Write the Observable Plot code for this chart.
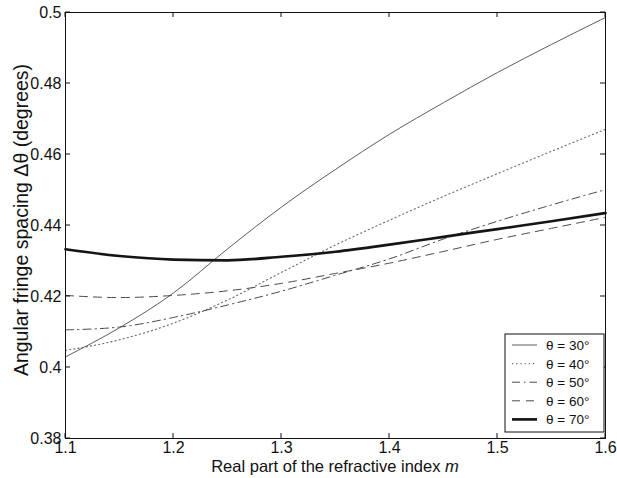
<!DOCTYPE html>
<html>
<head>
<meta charset="utf-8">
<script src="https://cdn.jsdelivr.net/npm/d3@7"></script>
<script src="https://cdn.jsdelivr.net/npm/@observablehq/plot@0.6"></script>
<style>
  html, body { margin: 0; padding: 0; background: #fff; }
  #chart { width: 617px; height: 478px; }
</style>
</head>
<body>
<div id="chart"></div>
<script>
// Real part of refractive index
const m = [1.10, 1.15, 1.20, 1.25, 1.30, 1.35, 1.40, 1.45, 1.50, 1.55, 1.60];
// Angular fringe spacing (degrees) for each scattering angle
const theta30 = [0.4030, 0.4112, 0.4210, 0.4334, 0.4452, 0.4558, 0.4657, 0.4746, 0.4831, 0.4910, 0.4986];
const theta40 = [0.4048, 0.4078, 0.4125, 0.4190, 0.4268, 0.4345, 0.4415, 0.4482, 0.4546, 0.4609, 0.4671];
const theta50 = [0.4106, 0.4114, 0.4141, 0.4176, 0.4215, 0.4260, 0.4306, 0.4362, 0.4412, 0.4458, 0.4501];
const theta60 = [0.4203, 0.4197, 0.4203, 0.4216, 0.4237, 0.4265, 0.4294, 0.4327, 0.4361, 0.4392, 0.4423];
const theta70 = [0.4333, 0.4314, 0.4304, 0.4302, 0.4312, 0.4326, 0.4346, 0.4368, 0.4390, 0.4412, 0.4435];

const seriesNames = ["θ = 30°", "θ = 40°", "θ = 50°", "θ = 60°", "θ = 70°"];
const seriesValues = [theta30, theta40, theta50, theta60, theta70];
const xTicks = [1.1, 1.2, 1.3, 1.4, 1.5, 1.6];
const yTicks = [0.38, 0.40, 0.42, 0.44, 0.46, 0.48, 0.50];

const styles = [
  {stroke: "#4a4a4a", strokeWidth: 0.9, dash: null},
  {stroke: "#6a6a6a", strokeWidth: 1.1, dash: "1.2,3"},
  {stroke: "#4a4a4a", strokeWidth: 1.0, dash: "8,4,1.5,4"},
  {stroke: "#4a4a4a", strokeWidth: 1.0, dash: "8,6"},
  {stroke: "#151515", strokeWidth: 2.7, dash: null}
];

const lineMarks = seriesValues.map((vals, i) => {
  const rows = m.map((x, j) => ({m: x, v: vals[j], s: seriesNames[i]}));
  return Plot.line(rows, {
    x: "m", y: "v", curve: "monotone-x",
    stroke: styles[i].stroke, strokeWidth: styles[i].strokeWidth,
    strokeDasharray: styles[i].dash
  });
});

const W = 617, H = 478;
const mL = 65, mR = 12, mT = 12, mB = 40;
const fmt = d => String(+d.toFixed(2));

const chart = Plot.plot({
  width: W, height: H,
  marginLeft: mL, marginRight: mR, marginTop: mT, marginBottom: mB,
  style: {fontFamily: "'Liberation Sans', Arial, sans-serif", fontSize: "16px", color: "#111", background: "#fff"},
  x: {domain: [1.1, 1.6]},
  y: {domain: [0.38, 0.5]},
  marks: [
    ...lineMarks,
    Plot.frame({stroke: "#111", strokeWidth: 1}),
    Plot.axisX({anchor: "bottom", ticks: xTicks, tickSize: 0, tickPadding: 3, label: null, tickFormat: fmt}),
    Plot.axisY({anchor: "left", ticks: yTicks, tickSize: 0, tickPadding: 4, label: null, tickFormat: fmt})
  ]
});

document.getElementById("chart").appendChild(chart);

const svg = d3.select(chart);
const sx = chart.scale("x"), sy = chart.scale("y");
const x0 = mL, x1 = W - mR, y0 = mT, y1 = H - mB;
const TL = 5;
const tk = svg.append("g").attr("stroke", "#111").attr("stroke-width", 1).attr("fill", "none");
xTicks.forEach(t => {
  const px = sx.apply(t);
  tk.append("line").attr("x1", px).attr("x2", px).attr("y1", y1).attr("y2", y1 - TL);
  tk.append("line").attr("x1", px).attr("x2", px).attr("y1", y0).attr("y2", y0 + TL);
});
yTicks.forEach(t => {
  const py = sy.apply(t);
  tk.append("line").attr("x1", x0).attr("x2", x0 + TL).attr("y1", py).attr("y2", py);
  tk.append("line").attr("x1", x1).attr("x2", x1 - TL).attr("y1", py).attr("y2", py);
});

// Axis titles
const xt = svg.append("text")
  .attr("x", (mL + W - mR) / 2).attr("y", 472)
  .attr("text-anchor", "middle")
  .attr("font-size", 16.5).attr("fill", "#111");
xt.append("tspan").text("Real part of the refractive index ");
xt.append("tspan").attr("font-style", "italic").text("m");

svg.append("text")
  .attr("transform", "translate(21,220) rotate(-90)")
  .attr("text-anchor", "middle")
  .attr("dy", "0.35em")
  .attr("font-size", 19.5).attr("fill", "#111")
  .text("Angular fringe spacing Δθ (degrees)");

// Legend
const lg = svg.append("g");
const bx = 505, by = 334, bw = 99, bh = 98;
lg.append("rect").attr("x", bx).attr("y", by).attr("width", bw).attr("height", bh)
  .attr("fill", "#fff").attr("stroke", "#111").attr("stroke-width", 1);
seriesNames.forEach((name, i) => {
  const yy = by + 11 + i * 18.6;
  lg.append("line").attr("x1", bx + 7).attr("x2", bx + 32).attr("y1", yy).attr("y2", yy)
    .attr("stroke", styles[i].stroke).attr("stroke-width", styles[i].strokeWidth)
    .attr("stroke-dasharray", styles[i].dash);
  lg.append("text").attr("x", bx + 41).attr("y", yy + 5)
    .attr("text-anchor", "start")
    .attr("font-size", 13.5).attr("fill", "#111").text(name);
});
</script>
</body>
</html>
